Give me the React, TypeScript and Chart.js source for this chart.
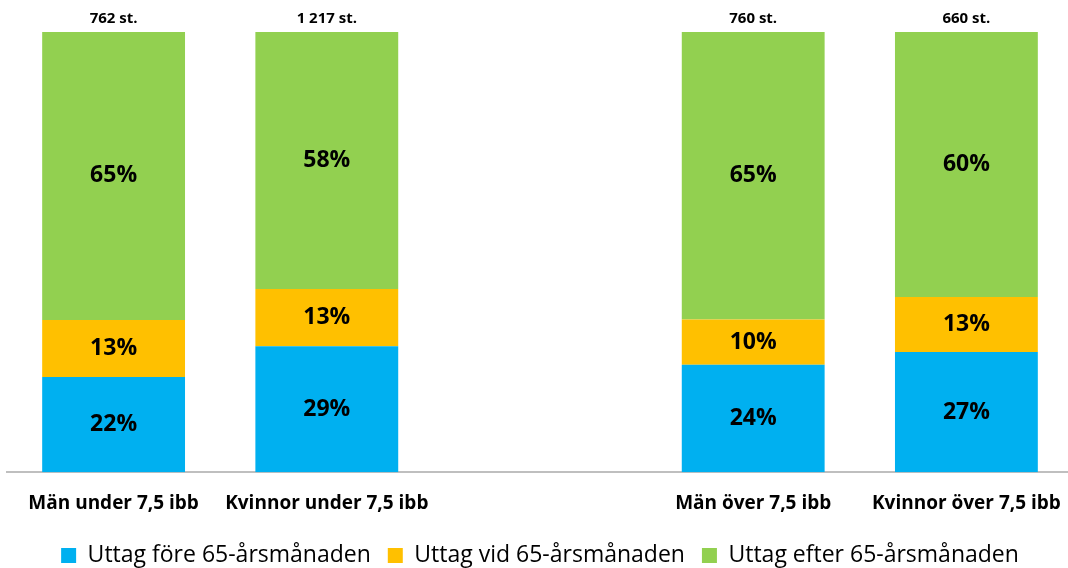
import React, { useEffect, useRef } from "react";
import { Chart, registerables } from "chart.js";

Chart.register(...registerables);

const categories = [
  "Män under 7,5 ibb",
  "Kvinnor under 7,5 ibb",
  "",
  "Män över 7,5 ibb",
  "Kvinnor över 7,5 ibb",
];
const seriesNames = [
  "Uttag före 65-årsmånaden",
  "Uttag vid 65-årsmånaden",
  "Uttag efter 65-årsmånaden",
];
const fore = [21.6, 28.6, null, 24.4, 27.3];
const vid = [13.0, 13.0, null, 10.3, 12.5];
const efter = [65.4, 58.4, null, 65.3, 60.2];
const totals = ["762 st.", "1 217 st.", "", "760 st.", "660 st."];

const colors = ["#00B0F0", "#FFC000", "#92D050"];
const FONT = "'Open Sans', sans-serif";

const labelPlugin = {
  id: "labels",
  afterDatasetsDraw(chart: any) {
    const ctx = chart.ctx;
    ctx.save();
    ctx.fillStyle = "#000";
    ctx.textAlign = "center";
    ctx.textBaseline = "middle";
    chart.data.datasets.forEach((ds: any, di: number) => {
      const meta = chart.getDatasetMeta(di);
      meta.data.forEach((el: any, i: number) => {
        const v = ds.data[i];
        if (v == null) return;
        ctx.font = `bold 23px ${FONT}`;
        ctx.fillText(Math.round(v) + "%", el.x, (el.y + el.base) / 2);
      });
    });
    const last = chart.getDatasetMeta(chart.data.datasets.length - 1);
    last.data.forEach((el: any, i: number) => {
      if (!totals[i]) return;
      ctx.font = `bold 15px ${FONT}`;
      ctx.fillText(totals[i], el.x, el.y - 13);
    });
    ctx.restore();
  },
};

export default function App() {
  const ref = useRef<HTMLCanvasElement>(null);
  useEffect(() => {
    document.body.style.margin = "0";
    const chart = new Chart(ref.current!, {
      type: "bar",
      data: {
        labels: categories,
        datasets: [fore, vid, efter].map((d, i) => ({
          label: seriesNames[i],
          data: d,
          backgroundColor: colors[i],
          borderWidth: 0,
          categoryPercentage: 1,
          barPercentage: 0.67,
        })),
      },
      options: {
        animation: false,
        responsive: false,
        maintainAspectRatio: false,
        layout: { padding: { left: 7, right: 3, top: 32, bottom: -9 } },
        plugins: {
          legend: {
            position: "bottom",
            labels: {
              boxWidth: 15,
              boxHeight: 15,
              padding: 17,
              color: "#000",
              font: { size: 23, family: FONT },
            },
          },
          tooltip: { enabled: false },
        },
        scales: {
          x: {
            stacked: true,
            grid: { display: false },
            border: { color: "#bfbfbf", width: 2 },
            ticks: {
              color: "#000",
              font: { size: 19, weight: "bold", family: FONT },
              padding: 12,
              maxRotation: 0,
              autoSkip: false,
            },
          },
          y: {
            stacked: true,
            display: false,
            min: 0,
            max: 100,
          },
        },
      },
      plugins: [labelPlugin],
    });
    return () => chart.destroy();
  }, []);
  return (
    <div style={{ position: "fixed", left: 0, top: 0, width: 1068, height: 568, overflow: "hidden" }}>
      <canvas ref={ref} width={1076} height={568} style={{ display: "block" }} />
    </div>
  );
}
